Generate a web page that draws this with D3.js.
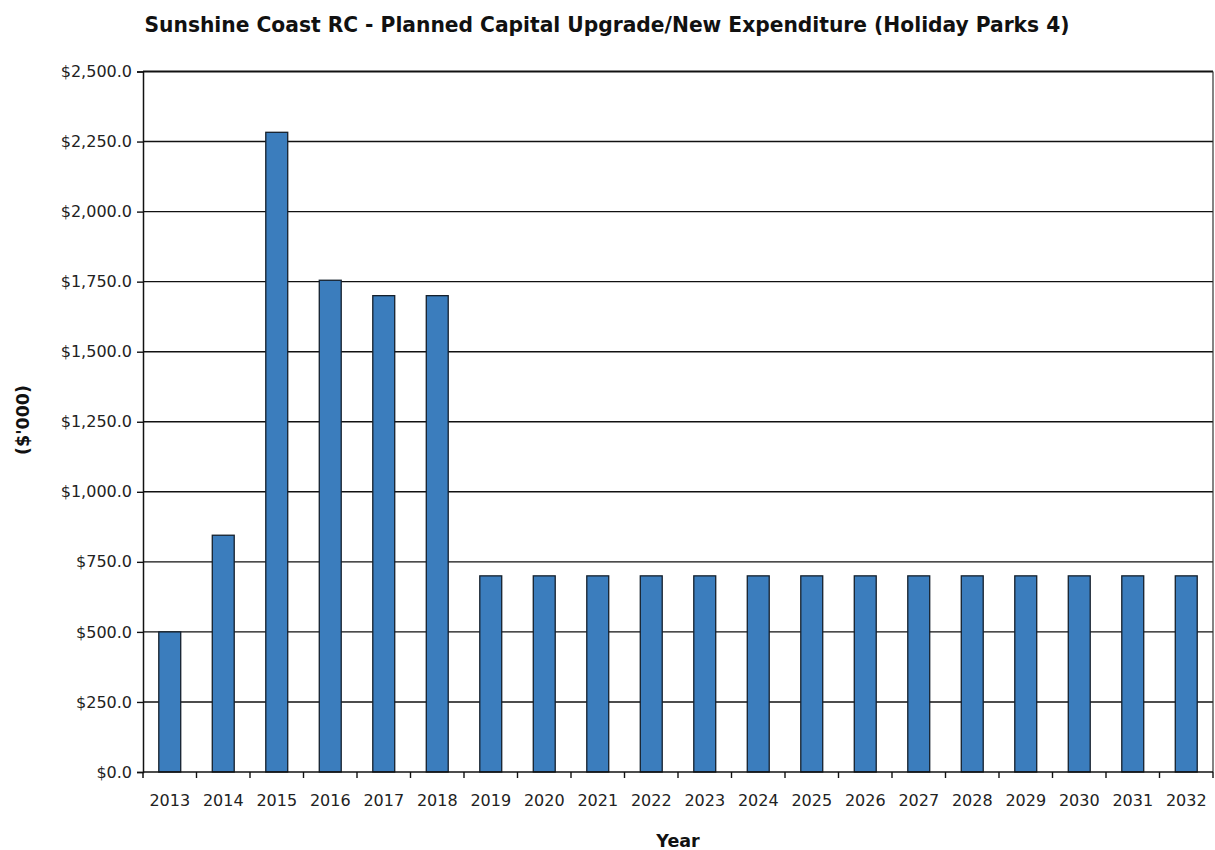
<!DOCTYPE html>
<html>
<head>
<meta charset="utf-8">
<script src="https://cdn.jsdelivr.net/npm/d3@7"></script>
<style>
  html, body { margin: 0; padding: 0; background: #fff; }
  svg { display: block; }
</style>
</head>
<body>
<svg id="chart" width="1215" height="850"></svg>
<script>
// Planned capital upgrade/new expenditure by year ($'000)
const years = ["2013","2014","2015","2016","2017","2018","2019","2020","2021","2022",
               "2023","2024","2025","2026","2027","2028","2029","2030","2031","2032"];
const expenditure = [500, 845, 2283, 1755, 1700, 1700, 700, 700, 700, 700,
                     700, 700, 700, 700, 700, 700, 700, 700, 700, 700];
const yTicks = [0, 250, 500, 750, 1000, 1250, 1500, 1750, 2000, 2250, 2500];

const svg = d3.select("#chart");
const margin = { left: 143, right: 2, top: 71.5, bottom: 78 };
const W = 1215, H = 850;
const plotW = W - margin.left - margin.right;
const plotH = H - margin.top - margin.bottom;

const labelFont = "DejaVu Sans, Verdana, sans-serif";

const x = d3.scaleBand().domain(years).range([0, plotW]).paddingInner(0.59).paddingOuter(0.295);
const xEdges = d3.scaleBand().domain(years).range([0, plotW]).padding(0);
const y = d3.scaleLinear().domain([0, 2500]).range([plotH, 0]);

const g = svg.append("g").attr("transform", `translate(${margin.left},${margin.top})`);

// Horizontal gridlines
g.append("g").selectAll("line").data(yTicks.filter(d => d > 0)).join("line")
  .attr("x1", 0).attr("x2", plotW)
  .attr("y1", d => y(d)).attr("y2", d => y(d))
  .attr("stroke", "#111").attr("stroke-width", d => d === 2500 ? 2 : 1.4);

// Right border of plot
g.append("line").attr("x1", plotW).attr("x2", plotW).attr("y1", 0).attr("y2", plotH)
  .attr("stroke", "#333").attr("stroke-width", 1.2);

// Bars
g.append("g").selectAll("rect").data(years).join("rect")
  .attr("x", d => x(d))
  .attr("width", x.bandwidth())
  .attr("y", (d, i) => y(expenditure[i]))
  .attr("height", (d, i) => plotH - y(expenditure[i]))
  .attr("fill", "#3b7dbd")
  .attr("stroke", "#15202c").attr("stroke-width", 1.3);

// Y axis
const yAxis = d3.axisLeft(y).tickValues(yTicks).tickSize(6).tickPadding(5)
  .tickFormat(d => "$" + d3.format(",.1f")(d));
const ya = g.append("g").call(yAxis);
ya.attr("font-family", labelFont).attr("font-size", 16);
ya.select(".domain").attr("stroke", "#111").attr("stroke-width", 1.5);
ya.selectAll(".tick line").attr("stroke", "#111").attr("stroke-width", 1.4);
ya.selectAll("text").attr("fill", "#222");

// X axis: ticks at category boundaries
const xa = g.append("g").attr("transform", `translate(0,${plotH})`);
xa.append("line").attr("x1", 0).attr("x2", plotW).attr("y1", 0).attr("y2", 0)
  .attr("stroke", "#111").attr("stroke-width", 1.5);
xa.selectAll("line.tk").data(years.slice(1).concat(["end"])).join("line").attr("class", "tk")
  .attr("x1", d => d === "end" ? plotW : xEdges(d))
  .attr("x2", d => d === "end" ? plotW : xEdges(d))
  .attr("y1", 0).attr("y2", 6).attr("stroke", "#111").attr("stroke-width", 1.4);
xa.append("line").attr("x1", 0).attr("x2", 0).attr("y1", 0).attr("y2", 6)
  .attr("stroke", "#111").attr("stroke-width", 1.5);
xa.selectAll("text").data(years).join("text")
  .attr("x", d => xEdges(d) + xEdges.bandwidth() / 2)
  .attr("y", 34)
  .attr("text-anchor", "middle")
  .attr("font-family", labelFont)
  .attr("font-size", 16).attr("fill", "#222")
  .text(d => d);

// Title
svg.append("text")
  .attr("x", 607).attr("y", 32)
  .attr("text-anchor", "middle")
  .attr("font-family", "DejaVu Sans Condensed, DejaVu Sans, sans-serif")
  .attr("font-weight", "bold").attr("font-size", 21).attr("fill", "#111")
  .attr("textLength", 925).attr("lengthAdjust", "spacingAndGlyphs")
  .text("Sunshine Coast RC - Planned Capital Upgrade/New Expenditure (Holiday Parks 4)");

// Axis titles
svg.append("text")
  .attr("x", 678).attr("y", 847)
  .attr("text-anchor", "middle")
  .attr("font-family", "DejaVu Sans, sans-serif")
  .attr("font-weight", "bold").attr("font-size", 17.5).attr("fill", "#111")
  .text("Year");

svg.append("text")
  .attr("transform", "translate(29,420) rotate(-90)")
  .attr("text-anchor", "middle")
  .attr("font-family", "DejaVu Sans, sans-serif")
  .attr("font-weight", "bold").attr("font-size", 17.5).attr("fill", "#111")
  .text("($'000)");
</script>
</body>
</html>
